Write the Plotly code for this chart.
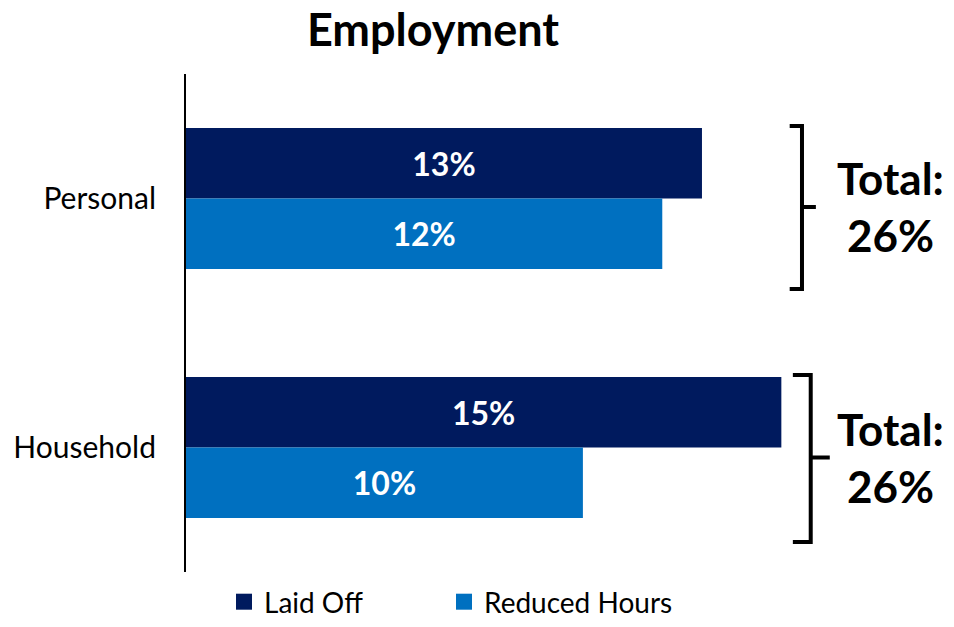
import plotly.graph_objects as go

# Survey results: share of respondents affected, by scope
categories = ["Personal", "Household"]
laid_off = [13, 15]
reduced_hours = [12, 10]
totals = [26, 26]

NAVY = "#001A5E"
BLUE = "#0070C0"
FONT = "Lato"

fig = go.Figure()

fig.add_trace(go.Bar(
    y=categories, x=laid_off, orientation="h", name="Laid Off",
    marker=dict(color=NAVY, line=dict(width=0)),
    texttemplate="%{x}%", textposition="inside", insidetextanchor="middle",
    textfont=dict(family=FONT, size=32, color="white", weight="bold"),
    showlegend=False, hoverinfo="skip",
))
fig.add_trace(go.Bar(
    y=categories, x=reduced_hours, orientation="h", name="Reduced Hours",
    marker=dict(color=BLUE, line=dict(width=0)),
    texttemplate="%{x}%", textposition="inside", insidetextanchor="middle",
    textfont=dict(family=FONT, size=32, color="white", weight="bold"),
    showlegend=False, hoverinfo="skip",
))

# Legend entries with larger square swatches, one legend box per series
for name, color, leg in [("Laid Off", NAVY, "legend"), ("Reduced Hours", BLUE, "legend2")]:
    fig.add_trace(go.Scatter(
        x=[None], y=[None], mode="markers", name=name,
        marker=dict(symbol="square", size=16, color=color),
        showlegend=True, legend=leg,
    ))

X_MAX = 19.35
Y_RANGE = [1.5, -0.5]


def ypaper(v):
    # category coordinate -> paper fraction (axis is reversed)
    return (Y_RANGE[0] - v) / (Y_RANGE[0] - Y_RANGE[1])


def xpaper(v):
    return v / X_MAX


# Brackets grouping each category's bars, with the total beside them
brackets = [
    # (arm start, spine, tip, top, middle, bottom) in data units
    (15.21, 15.52, 15.87, -0.291, 0.034, 0.363),
    (15.29, 15.74, 16.22, 0.709, 1.040, 1.380),
]
for (xa, xs, xt, yt, ym, yb), total in zip(brackets, totals):
    path = (f"M{xpaper(xa)},{ypaper(yt)} L{xpaper(xs)},{ypaper(yt)} "
            f"L{xpaper(xs)},{ypaper(yb)} L{xpaper(xa)},{ypaper(yb)} "
            f"M{xpaper(xs)},{ypaper(ym)} L{xpaper(xt)},{ypaper(ym)}")
    fig.add_shape(type="path", path=path, xref="paper", yref="paper",
                  line=dict(color="black", width=4))
    fig.add_annotation(
        x=xpaper(17.76), y=ypaper(ym), xref="paper", yref="paper",
        text=f"<b>Total:<br>{total}%</b>", showarrow=False,
        xanchor="center", yanchor="middle",
        font=dict(family=FONT, size=44, color="black"),
    )

legend_style = dict(
    orientation="h", xref="container", xanchor="left",
    y=-5 / 627, yref="container", yanchor="bottom",
    font=dict(family=FONT, size=28, color="black"),
    itemclick=False, bgcolor="rgba(0,0,0,0)",
)

fig.update_layout(
    width=954, height=627,
    margin=dict(l=186, r=0, t=74, b=55),
    paper_bgcolor="white", plot_bgcolor="white",
    barmode="group", bargap=0.434, bargroupgap=0.0,
    title=dict(
        text="<b>Employment</b>", x=433 / 954, xref="container", xanchor="center",
        y=1 - 30 / 627, yref="container", yanchor="middle",
        font=dict(family=FONT, size=45, color="black"),
    ),
    xaxis=dict(range=[0, X_MAX], visible=False, fixedrange=True),
    yaxis=dict(
        categoryorder="array", categoryarray=categories, range=Y_RANGE,
        showline=True, linecolor="black", linewidth=2, showgrid=False,
        zeroline=False, ticks="", ticklabelstandoff=22,
        tickfont=dict(family=FONT, size=30, color="black"),
    ),
    legend=dict(x=224 / 954, **legend_style),
    legend2=dict(x=444 / 954, **legend_style),
    showlegend=True,
)

fig.write_html("out.html")
